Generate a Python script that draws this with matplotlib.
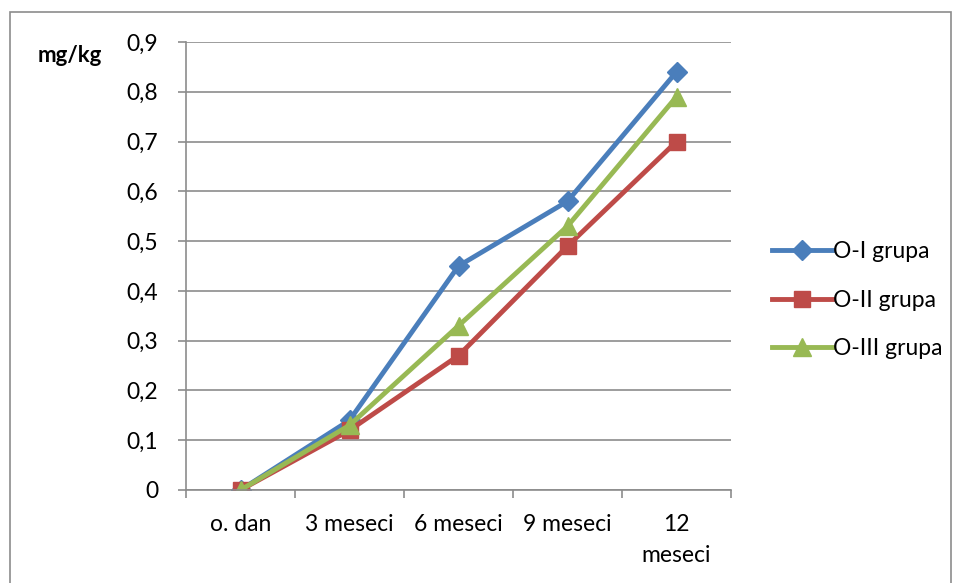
import numpy as np
import matplotlib.pyplot as plt
from matplotlib.patches import Rectangle

plt.rcParams['font.family'] = ['Lato', 'DejaVu Sans']

categories = ["o. dan", "3 meseci", "6 meseci", "9 meseci", "12\nmeseci"]
grupa_1 = [0, 0.14, 0.45, 0.58, 0.84]
grupa_2 = [0, 0.12, 0.27, 0.49, 0.70]
grupa_3 = [0, 0.13, 0.33, 0.53, 0.79]
yticks = [0, 0.1, 0.2, 0.3, 0.4, 0.5, 0.6, 0.7, 0.8, 0.9]
ytick_labels = ["0", "0,1", "0,2", "0,3", "0,4", "0,5", "0,6", "0,7", "0,8", "0,9"]

fig = plt.figure(figsize=(9.57, 5.83), dpi=100)
# outer chart frame
fig.patches.append(Rectangle((10 / 957, -0.01), 941 / 957, 1 - 12 / 583 + 0.01,
                             transform=fig.transFigure, fill=False,
                             edgecolor="#8c8c8c", linewidth=1.2))

ax = fig.add_axes([186 / 957, 93 / 583, 545 / 957, 448 / 583])
x = np.arange(len(categories))

ax.plot(x, grupa_1, color="#4A7EBB", lw=3.5, marker="D", ms=10, label="O-I grupa")
ax.plot(x, grupa_2, color="#BE4B48", lw=3.5, marker="s", ms=12, label="O-II grupa")
ax.plot(x, grupa_3, color="#98B954", lw=3.5, marker="^", ms=13, label="O-III grupa")

ax.set_xlim(-0.5, len(categories) - 0.5)
ax.set_ylim(0, 0.9)
ax.set_yticks(yticks)
ax.set_yticklabels(ytick_labels)
ax.set_xticks(x)
ax.set_xticklabels(categories, va="top", linespacing=1.6)
ax.tick_params(axis="x", length=0, pad=17, labelsize=16.5)
ax.set_xticks(np.arange(-0.5, len(categories), 1), minor=True)
ax.tick_params(axis="x", which="minor", length=6, color="#8c8c8c", width=1.2)
ax.tick_params(axis="y", length=6, color="#8c8c8c", width=1.2, pad=14, labelsize=16.5)

ax.grid(axis="y", color="#8c8c8c", lw=1.2)
ax.set_axisbelow(True)
for s in ["top", "right"]:
    ax.spines[s].set_visible(False)
for s in ["left", "bottom"]:
    ax.spines[s].set_color("#8c8c8c")
    ax.spines[s].set_linewidth(1.2)

fig.text(38 / 957, 1 - 56 / 583, "mg/kg", fontsize=16, fontweight="bold", va="center")

ax.legend(loc="center left", bbox_to_anchor=(1.05, 0.424), frameon=False, fontsize=16.5,
          handlelength=2.6, labelspacing=1.2, handletextpad=0.05, borderaxespad=0.2)

fig.savefig("out.png", dpi=100)
